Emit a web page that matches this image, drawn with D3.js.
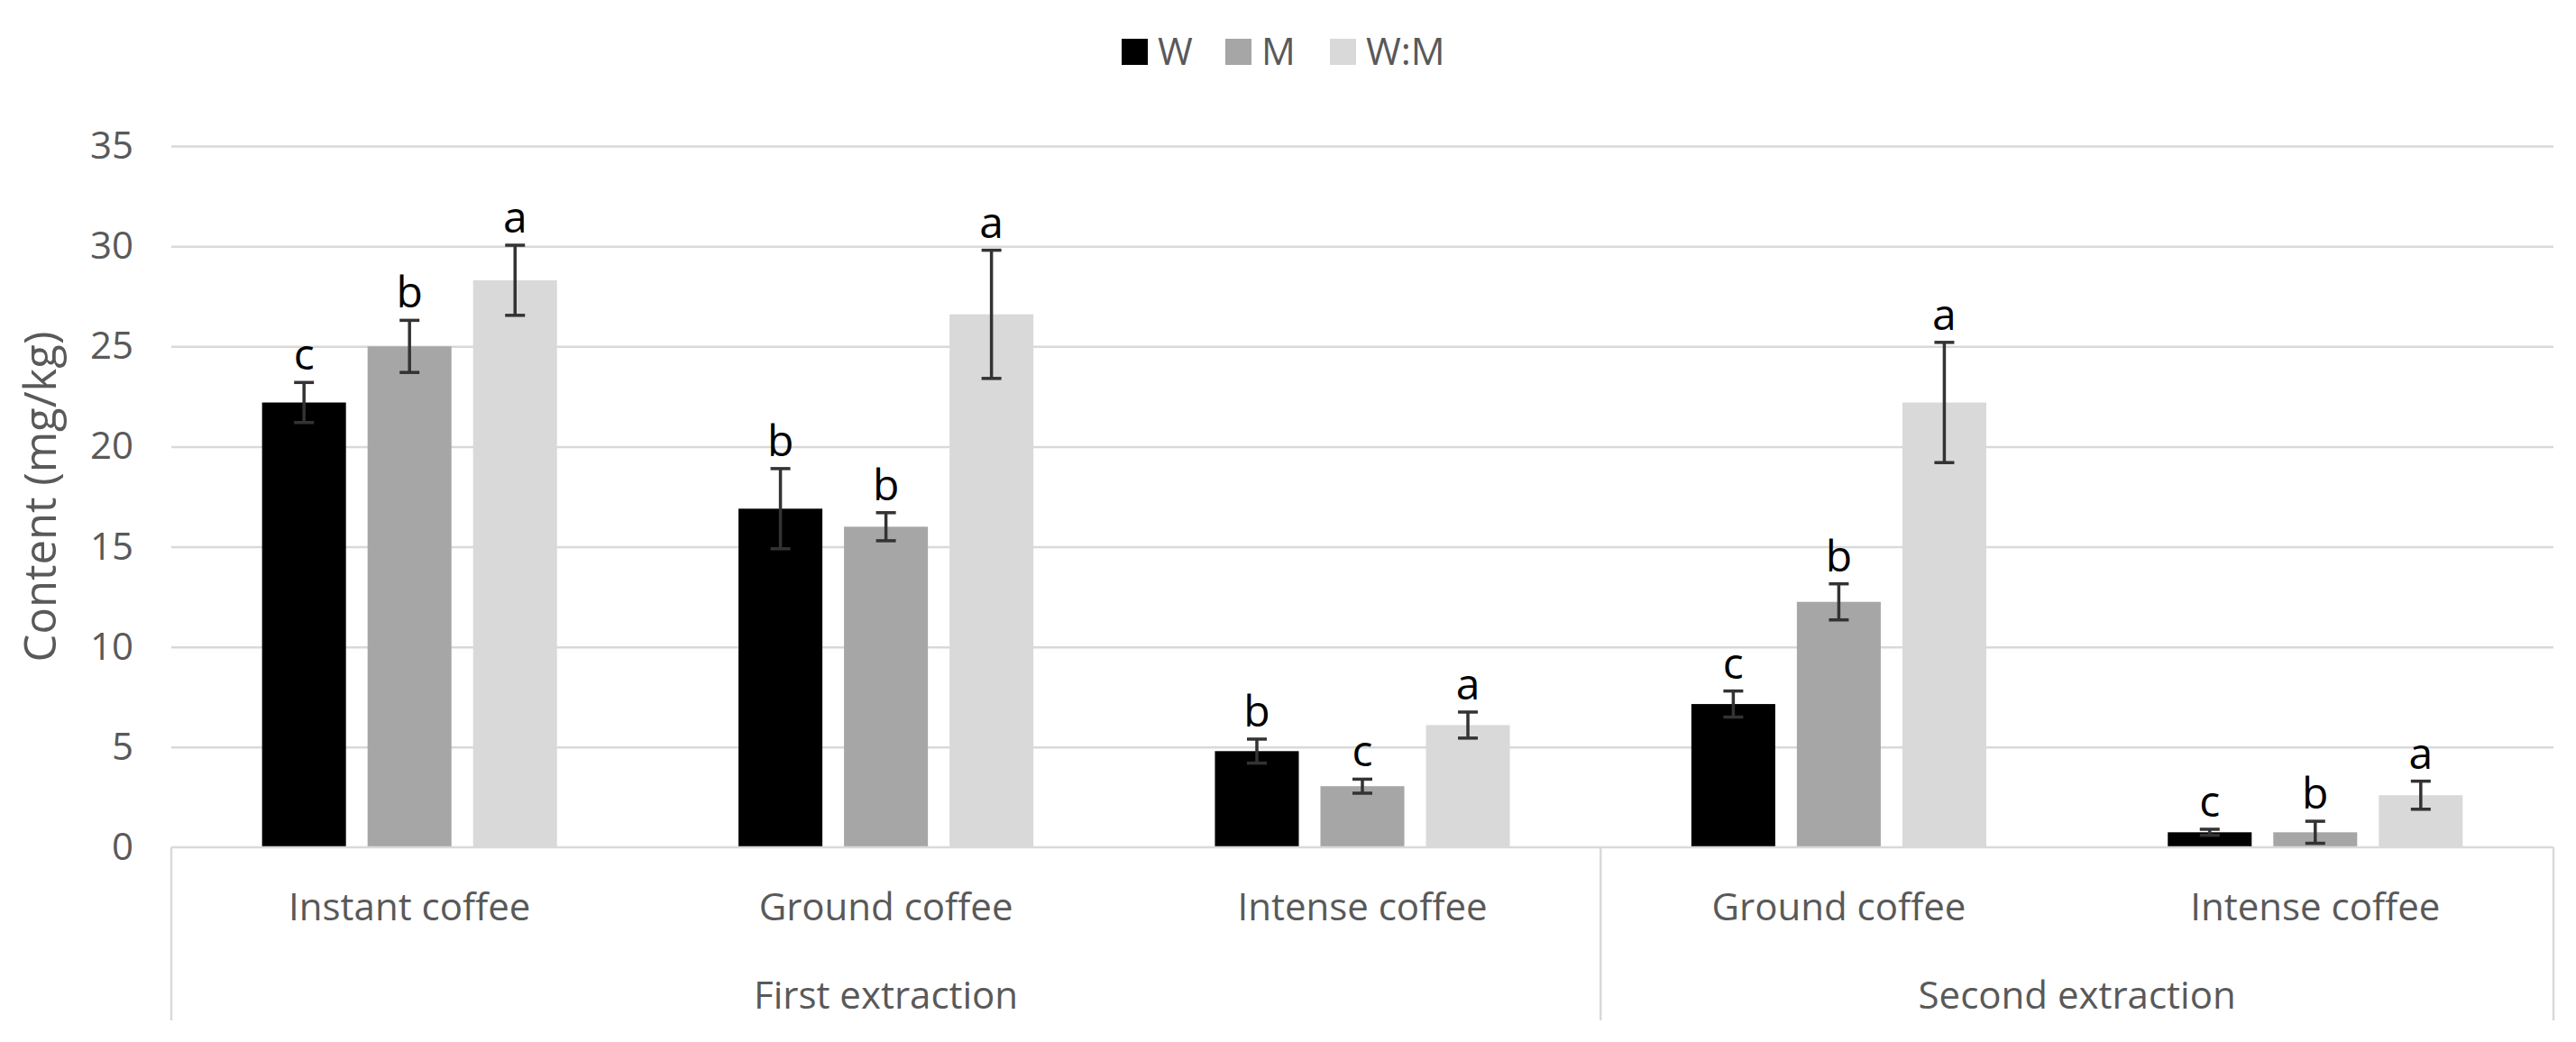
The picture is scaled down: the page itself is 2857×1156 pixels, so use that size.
<!DOCTYPE html>
<html>
<head>
<meta charset="utf-8">
<script src="https://cdn.jsdelivr.net/npm/d3@7"></script>
<style>
  body { margin: 0; background: #fff; }
  text { font-family: "Open Sans", "Noto Sans", sans-serif; }
</style>
</head>
<body>
<svg id="chart"></svg>
<script>
// categories (bottom level) and their extraction group (top level)
const categories = ['Instant coffee', 'Ground coffee', 'Intense coffee', 'Ground coffee', 'Intense coffee'];
const categoryGroup = [0, 0, 0, 1, 1];
const groups = ['First extraction', 'Second extraction'];

const series = ['W', 'M', 'W:M'];
const colors = ['#000000', '#a6a6a6', '#d9d9d9'];

// mean values (mg/kg)
const wValues  = [22.2, 16.9, 4.8, 7.15, 0.75];
const mValues  = [25.0, 16.0, 3.05, 12.25, 0.75];
const wmValues = [28.3, 26.6, 6.1, 22.2, 2.6];

// error bar half widths
const wErr  = [1.0, 2.0, 0.6, 0.65, 0.15];
const mErr  = [1.3, 0.7, 0.35, 0.9, 0.55];
const wmErr = [1.75, 3.2, 0.65, 3.0, 0.7];

// significance letters
const wLetters  = ['c', 'b', 'b', 'c', 'c'];
const mLetters  = ['b', 'b', 'c', 'b', 'b'];
const wmLetters = ['a', 'a', 'a', 'a', 'a'];

const yTicks = [0, 5, 10, 15, 20, 25, 30, 35];

const W = 2857, H = 1156;
const margin = { top: 162, right: 25, bottom: 216, left: 190 };
const plotW = W - margin.left - margin.right;
const plotH = H - margin.top - margin.bottom;

const svg = d3.select('#chart').attr('width', W).attr('height', H);
const chart = svg.append('g').attr('transform', `translate(${margin.left},${margin.top})`);

const values = [wValues, mValues, wmValues];
const errs = [wErr, mErr, wmErr];
const letters = [wLetters, mLetters, wmLetters];

const data = [];
categories.forEach((c, i) => {
    series.forEach((s, j) => {
        data.push({ cat: i, s: s, si: j, v: values[j][i], e: errs[j][i], l: letters[j][i] });
    });
});

const x0 = d3.scaleBand().domain(d3.range(categories.length)).range([0, plotW]);
const x1 = d3.scaleBand().domain(series).range([0, x0.bandwidth()])
    .paddingInner(0.205).paddingOuter(0.86);
const y = d3.scaleLinear().domain([0, 35]).range([plotH, 0]);

// gridlines
chart.append('g')
    .call(d3.axisLeft(y).tickValues(yTicks.slice(1)).tickSize(-plotW).tickFormat(''))
    .call(g => g.select('.domain').remove())
    .call(g => g.selectAll('line').attr('stroke', '#d9d9d9').attr('stroke-width', 2.5));

// y labels
chart.append('g')
    .call(d3.axisLeft(y).tickValues(yTicks).tickSize(0).tickPadding(42))
    .call(g => g.select('.domain').remove())
    .call(g => g.selectAll('text').attr('fill', '#595959').style('font-size', '42px'));

// bars
chart.append('g').selectAll('rect')
    .data(data)
    .join('rect')
    .attr('x', d => x0(d.cat) + x1(d.s))
    .attr('y', d => y(d.v))
    .attr('width', x1.bandwidth())
    .attr('height', d => y(0) - y(d.v))
    .attr('fill', d => colors[d.si]);

// x axis line
chart.append('line')
    .attr('x1', 0).attr('x2', plotW)
    .attr('y1', y(0)).attr('y2', y(0))
    .attr('stroke', '#d9d9d9').attr('stroke-width', 2.5);

// error bars
const eb = chart.append('g').attr('stroke', '#333333').attr('stroke-width', 3.5);
const cx = d => x0(d.cat) + x1(d.s) + x1.bandwidth() / 2;
eb.selectAll('.stem').data(data).join('line')
    .attr('x1', cx).attr('x2', cx)
    .attr('y1', d => y(d.v + d.e)).attr('y2', d => y(Math.max(0, d.v - d.e)));
eb.selectAll('.capt').data(data).join('line')
    .attr('x1', d => cx(d) - 11).attr('x2', d => cx(d) + 11)
    .attr('y1', d => y(d.v + d.e)).attr('y2', d => y(d.v + d.e));
eb.selectAll('.capb').data(data).join('line')
    .attr('x1', d => cx(d) - 11).attr('x2', d => cx(d) + 11)
    .attr('y1', d => y(Math.max(0, d.v - d.e))).attr('y2', d => y(Math.max(0, d.v - d.e)));

// letters
chart.append('g').selectAll('text')
    .data(data)
    .join('text')
    .attr('x', cx)
    .attr('y', d => y(d.v + d.e) - 14)
    .attr('text-anchor', 'middle')
    .style('font-size', '48px')
    .attr('fill', '#000')
    .text(d => d.l);

// category labels
chart.append('g').selectAll('text')
    .data(categories)
    .join('text')
    .attr('x', (d, i) => x0(i) + x0.bandwidth() / 2)
    .attr('y', plotH + 81)
    .attr('text-anchor', 'middle')
    .attr('fill', '#595959')
    .style('font-size', '42px')
    .text(d => d);

// group labels + dividers
const groupSpan = groups.map((g, gi) => {
    const idx = d3.range(categories.length).filter(i => categoryGroup[i] === gi);
    return { name: g, x0: x0(d3.min(idx)), x1: x0(d3.max(idx)) + x0.bandwidth() };
});
chart.append('g').selectAll('text')
    .data(groupSpan)
    .join('text')
    .attr('x', d => (d.x0 + d.x1) / 2)
    .attr('y', plotH + 179)
    .attr('text-anchor', 'middle')
    .attr('fill', '#595959')
    .style('font-size', '42px')
    .text(d => d.name);

const divX = [groupSpan[0].x0].concat(groupSpan.map(d => d.x1));
chart.append('g').selectAll('line')
    .data(divX)
    .join('line')
    .attr('x1', d => d).attr('x2', d => d)
    .attr('y1', plotH).attr('y2', plotH + 192)
    .attr('stroke', '#d9d9d9').attr('stroke-width', 2.5);

// y axis title
svg.append('text')
    .attr('transform', `translate(62,${margin.top + plotH / 2}) rotate(-90)`)
    .attr('text-anchor', 'middle')
    .attr('fill', '#595959')
    .style('font-size', '49px')
    .text('Content (mg/kg)');

// legend
const legend = svg.append('g').attr('transform', 'translate(1244,43)');
const legX = [0, 115, 231];
series.forEach((s, i) => {
    const g = legend.append('g').attr('transform', `translate(${legX[i]},0)`);
    g.append('rect').attr('width', 29).attr('height', 29).attr('fill', colors[i]);
    g.append('text').attr('x', 40).attr('y', 29).attr('fill', '#595959')
        .style('font-size', '42px').text(s);
});
</script>
</body>
</html>
